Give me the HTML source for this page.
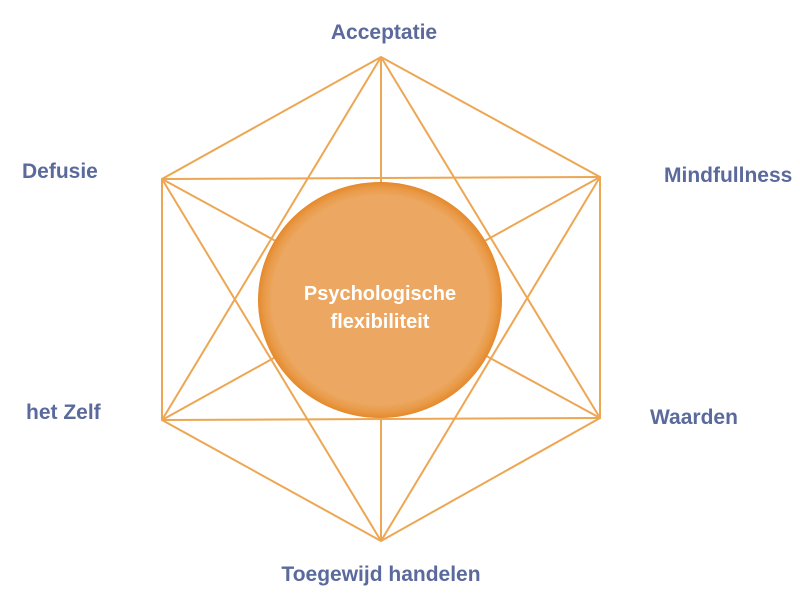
<!DOCTYPE html>
<html><head><meta charset="utf-8"><style>
body{margin:0;background:#fff;width:800px;height:609px;overflow:hidden}
svg{display:block}
text{font-family:"Liberation Sans",sans-serif;font-weight:bold}
</style></head><body>
<svg width="800" height="609" viewBox="0 0 800 609">
<defs>
<radialGradient id="g" cx="50%" cy="50%" r="50%">
<stop offset="0.88" stop-color="#eca862"/>
<stop offset="0.95" stop-color="#e99a47"/>
<stop offset="1" stop-color="#e5892c"/>
</radialGradient>
</defs>
<g stroke="#eda653" stroke-width="2" fill="none">
<polygon points="381,57 600,177 600,418 381,541 162,420 162,179"/>
<line x1="381" y1="57" x2="381" y2="541"/>
<line x1="162" y1="179" x2="600" y2="177"/>
<line x1="162" y1="420" x2="600" y2="418"/>
<line x1="162" y1="179" x2="600" y2="418"/>
<line x1="600" y1="177" x2="162" y2="420"/>
<line x1="381" y1="57" x2="162" y2="420"/>
<line x1="381" y1="57" x2="600" y2="418"/>
<line x1="381" y1="541" x2="162" y2="179"/>
<line x1="381" y1="541" x2="600" y2="177"/>
</g>
<ellipse cx="380" cy="300" rx="122" ry="118" fill="url(#g)"/>
<g fill="#fff" font-size="20" text-anchor="middle">
<text x="380" y="300">Psychologische</text>
<text x="380" y="328">flexibiliteit</text>
</g>
<g fill="#5b6a9c" font-size="21">
<text x="384" y="39" text-anchor="middle">Acceptatie</text>
<text x="22" y="178">Defusie</text>
<text x="664" y="182">Mindfullness</text>
<text x="26" y="419">het Zelf</text>
<text x="650" y="424">Waarden</text>
<text x="381" y="581" text-anchor="middle">Toegewijd handelen</text>
</g>
</svg>
</body></html>
